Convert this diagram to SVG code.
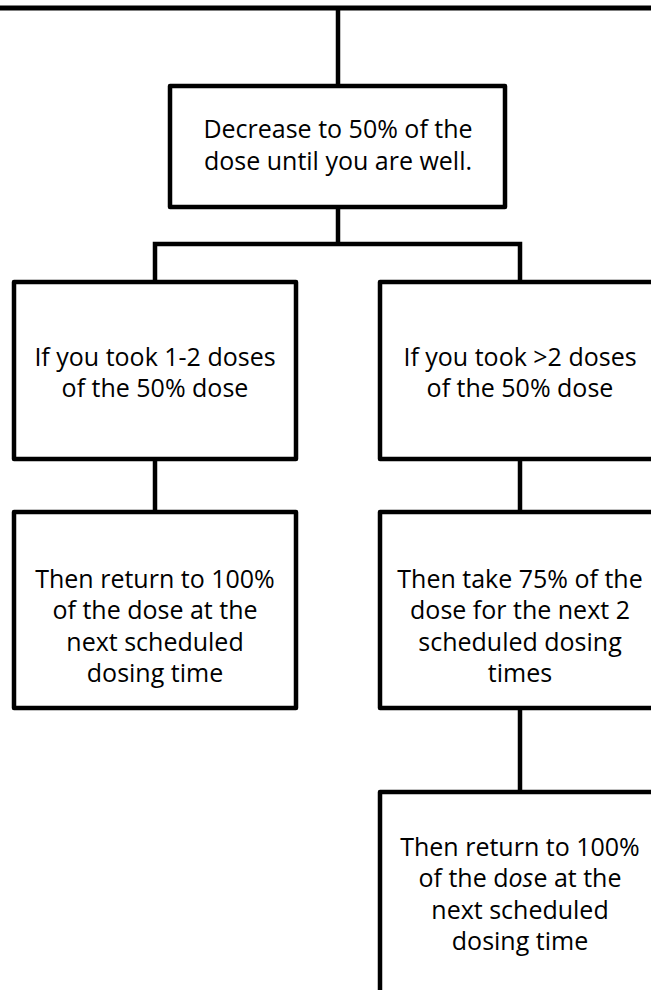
<svg xmlns="http://www.w3.org/2000/svg" width="651" height="990" viewBox="0 0 651 990">
<style>
.box{fill:#fff;stroke:#000;stroke-width:4.5;stroke-linejoin:round}
.ln{fill:none;stroke:#000;stroke-width:4.5}
text{font-family:"Open Sans","Noto Sans","DejaVu Sans",sans-serif;font-size:25px;fill:#000;text-anchor:middle}
</style>
<rect width="651" height="990" fill="#fff"/>
<g id="connectors">
<line class="ln" x1="0" y1="8" x2="651" y2="8" style="stroke-width:5"/>
<line class="ln" x1="338" y1="8" x2="338" y2="86"/>
<line class="ln" x1="338" y1="207" x2="338" y2="244"/>
<polyline class="ln" points="155,282 155,244 520,244 520,282"/>
<line class="ln" x1="155" y1="459" x2="155" y2="512"/>
<line class="ln" x1="520" y1="459" x2="520" y2="512"/>
<line class="ln" x1="520" y1="708" x2="520" y2="792"/>
</g>
<g id="n1">
<rect class="box" x="170" y="86" width="335" height="121"/>
<text x="338" y="138">Decrease to 50% of the</text>
<text x="338" y="170">dose until you are well.</text>
</g>
<g id="n2">
<rect class="box" x="14" y="282" width="282" height="177"/>
<text x="155" y="366">If you took 1-2 doses</text>
<text x="155" y="397">of the 50% dose</text>
</g>
<g id="n3">
<rect class="box" x="380" y="282" width="290" height="177"/>
<text x="520" y="366">If you took &gt;2 doses</text>
<text x="520" y="397">of the 50% dose</text>
</g>
<g id="n4">
<rect class="box" x="14" y="512" width="282" height="196"/>
<text x="155" y="588">Then return to 100%</text>
<text x="155" y="619">of the dose at the</text>
<text x="155" y="651">next scheduled</text>
<text x="155" y="682">dosing time</text>
</g>
<g id="n5">
<rect class="box" x="380" y="512" width="290" height="196"/>
<text x="520" y="588">Then take 75% of the</text>
<text x="520" y="619">dose for the next 2</text>
<text x="520" y="651">scheduled dosing</text>
<text x="520" y="682">times</text>
</g>
<g id="n6">
<rect class="box" x="380" y="792" width="290" height="220"/>
<text x="520" y="856">Then return to 100%</text>
<text x="520" y="887">of the d<tspan font-style="italic">os</tspan>e at the</text>
<text x="520" y="919">next scheduled</text>
<text x="520" y="950">dosing time</text>
</g>
</svg>
